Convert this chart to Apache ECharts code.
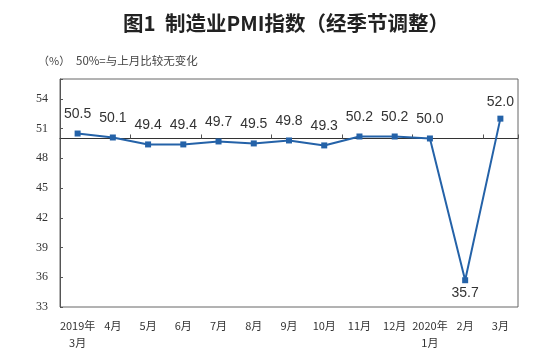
<!DOCTYPE html>
<html>
<head>
<meta charset="utf-8">
<style>html,body{margin:0;padding:0;background:#fff;}#c{width:550px;height:357px;}</style>
<script src="https://cdn.jsdelivr.net/npm/echarts@6/dist/echarts.min.js"></script>
</head>
<body>
<div id="c"></div>
<script>
const categories = ['2019年\n3月','4月','5月','6月','7月','8月','9月','10月','11月','12月','2020年\n1月','2月','3月'];
const pmiValues = [50.5, 50.1, 49.4, 49.4, 49.7, 49.5, 49.8, 49.3, 50.2, 50.2, 50.0, 35.7, 52.0];
const yTicks = [33, 36, 39, 42, 45, 48, 51, 54];
const titleText = '图1  制造业PMI指数（经季节调整）';
const unitText = '（%）';
const noteText = '50%=与上月比较无变化';

const chart = echarts.init(document.getElementById('c'), null, {renderer: 'canvas'});
const gridTop = 79, gridBottom = 50, chartH = 357;
const yMin = 33, yMax = 56, refLevel = 50;
const plotH = chartH - gridTop - gridBottom;
const refOffset = (yMax - refLevel) / (yMax - yMin) * plotH;

const seriesData = pmiValues.map((v, i) => {
  const low = v < refLevel - 5;
  const item = {value: v};
  item.label = low ? {position: 'bottom', distance: 3} : {position: 'top', distance: (v > 51 ? 7 : 9)};
  return item;
});

chart.setOption({
  animation: false,
  backgroundColor: '#fff',
  title: [
    {text: titleText, left: 281, top: 8, textAlign: 'center',
     textStyle: {fontFamily: 'Noto Sans CJK SC', fontSize: 20.5, fontWeight: 'bold', color: '#222'}},
    {text: unitText, left: 33, top: 50,
     textStyle: {fontFamily: 'Noto Sans CJK SC', fontSize: 11, fontWeight: 'normal', color: '#444'}},
    {text: noteText, left: 71, top: 50,
     textStyle: {fontFamily: 'Noto Sans CJK SC', fontSize: 11.5, fontWeight: 'normal', color: '#444'}}
  ],
  grid: {left: 60, right: 32, top: gridTop, bottom: gridBottom, show: true, borderColor: '#666', borderWidth: 1, backgroundColor: 'transparent'},
  xAxis: [
    {type: 'category', data: categories, position: 'bottom', boundaryGap: true,
     axisLine: {show: false}, axisTick: {show: false},
     axisLabel: {interval: 0, margin: 10, fontFamily: 'Noto Sans CJK SC', fontSize: 11, color: '#333', lineHeight: 17}},
    {type: 'category', data: categories, position: 'top', offset: -refOffset, boundaryGap: true,
     axisLine: {show: true, lineStyle: {color: '#333', width: 1}},
     axisTick: {show: true, length: 4, lineStyle: {color: '#555'}},
     axisLabel: {show: false}}
  ],
  yAxis: {
    type: 'value', min: yMin, max: yMax, interval: 3,
    axisLine: {show: true, lineStyle: {color: '#555'}},
    axisTick: {show: true, inside: true, length: 3, lineStyle: {color: '#555'}},
    splitLine: {show: false},
    axisLabel: {margin: 12, fontFamily: 'Liberation Serif', fontSize: 12, color: '#333',
      formatter: v => yTicks.indexOf(v) >= 0 ? String(v) : ''}
  },
  series: [{
    type: 'line', xAxisIndex: 0, data: seriesData,
    symbol: 'rect', symbolSize: 6, showAllSymbol: true,
    lineStyle: {color: '#2462A8', width: 2},
    itemStyle: {color: '#2462A8'},
    label: {show: true, fontFamily: 'Liberation Sans', fontSize: 14, color: '#333',
      formatter: p => p.value.toFixed(1)}
  }]
});
</script>
</body>
</html>
